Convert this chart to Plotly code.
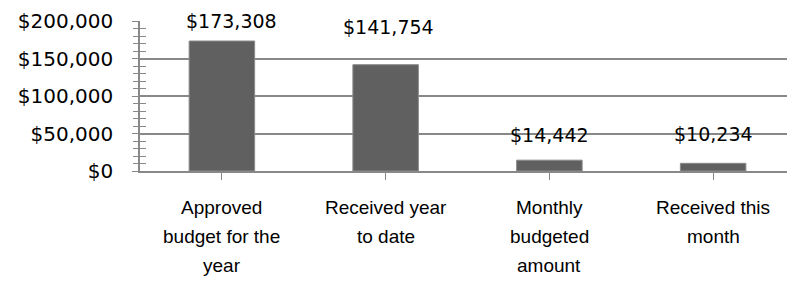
import plotly.graph_objects as go

categories = ["Approved budget for the year", "Received year to date", "Monthly budgeted amount", "Received this month"]
category_lines = [["Approved", "budget for the", "year"], ["Received year", "to date"], ["Monthly", "budgeted", "amount"], ["Received this", "month"]]
values = [173308, 141754, 14442, 10234]
value_labels = ["$173,308", "$141,754", "$14,442", "$10,234"]
label_shift = [20, 38, 25, 29]
label_xshift = [10, 3, 0, 0]
y_ticks = [0, 50000, 100000, 150000, 200000]
y_tick_labels = ["$0", "$50,000", "$100,000", "$150,000", "$200,000"]

num_font = "DejaVu Sans"
cat_font = "Liberation Sans Narrow, Liberation Sans, sans-serif"

fig = go.Figure()
fig.add_trace(go.Bar(
    x=list(range(len(categories))), y=values,
    marker=dict(color="#606060", line=dict(color="#8a8a8a", width=1)),
    width=0.4,
))
for i, (v, t, s, xs) in enumerate(zip(values, value_labels, label_shift, label_xshift)):
    fig.add_annotation(x=i, y=v, text=t, showarrow=False, yshift=s, xshift=xs,
                       font=dict(family=num_font, size=19, color="#000"))
for i, lines in enumerate(category_lines):
    for j, line in enumerate(lines):
        fig.add_annotation(x=i, y=0, text=line, showarrow=False, yanchor="middle",
                           yshift=-36 - 29 * j,
                           font=dict(family=cat_font, size=19, color="#000"))

fig.update_layout(
    width=787, height=274,
    margin=dict(l=132, r=0, t=13, b=111),
    plot_bgcolor="white", paper_bgcolor="white",
    showlegend=False,
    xaxis=dict(
        tickmode="array", tickvals=list(range(len(categories))), ticktext=categories,
        showticklabels=False,
        range=[-0.5, 3.5], automargin=False,
        showgrid=False, showline=True, linecolor="#888", linewidth=1.5,
        ticks="outside", tickson="boundaries", ticklen=7, tickcolor="#888",
    ),
    yaxis=dict(
        range=[0, 200000], tickmode="array", tickvals=y_ticks, ticktext=y_tick_labels,
        automargin=False,
        showgrid=True, gridcolor="#888", gridwidth=1.5,
        showline=True, linecolor="#888", linewidth=1.5,
        ticks="outside", ticklen=6, tickcolor="#888",
        minor=dict(dtick=10000, ticks="outside", ticklen=5, tickcolor="#888", showgrid=False),
        tickfont=dict(family=num_font, size=20, color="#000"),
        zeroline=False, ticklabelstandoff=15,
    ),
    yaxis2=dict(
        range=[0, 200000], overlaying="y", side="left", showticklabels=False,
        showgrid=False, zeroline=False, automargin=False,
        ticks="inside", ticklen=6, tickcolor="#888", dtick=10000,
    ),
)
fig.add_trace(go.Scatter(x=[None], y=[None], yaxis="y2", showlegend=False))
fig.write_html("out.html")
